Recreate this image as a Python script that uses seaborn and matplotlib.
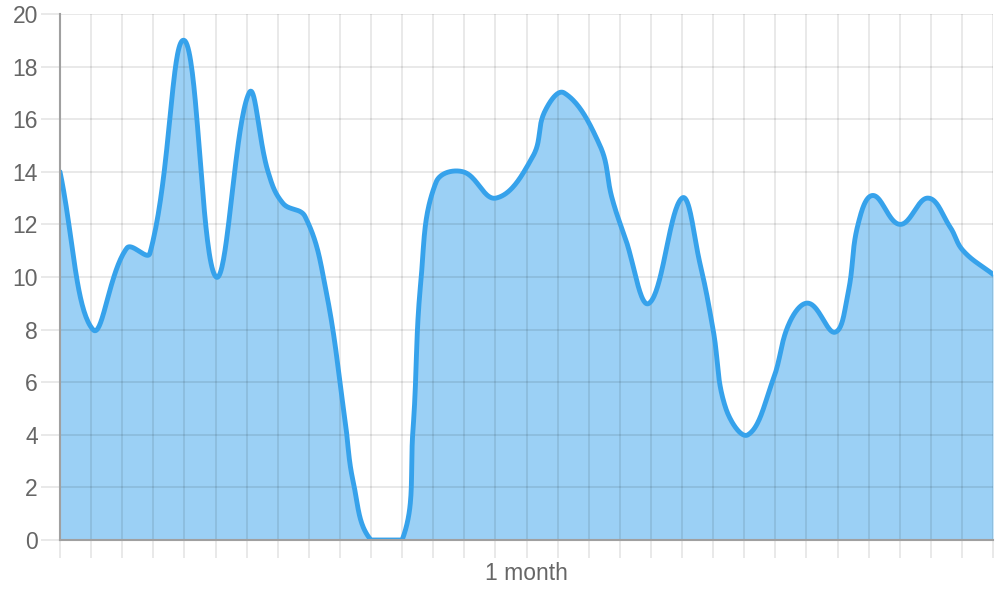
import numpy as np
import pandas as pd
import matplotlib
matplotlib.use("Agg")
import matplotlib.pyplot as plt
import seaborn as sns

# Data (x in days of the month, y value)
days = [0.0, 1.06, 2.15, 2.89, 3.99, 5.02, 6.08, 6.69, 7.17, 7.88, 8.55,
        9.16, 9.43, 10.0, 11.0, 11.35, 11.6, 12.09, 12.96, 14.02, 15.21,
        15.59, 16.21, 17.36, 17.75, 18.17, 18.94, 20.0, 20.58, 21.0, 21.41,
        22.12, 22.93, 23.47, 24.08, 24.92, 25.34, 25.66, 26.14, 27.01, 27.91,
        28.62, 29.04, 30.0]
values = [14.0, 8.0, 11.1, 10.9, 19.0, 10.0, 17.0, 14.0, 12.8, 12.3, 9.5,
          4.6, 2.2, 0.0, 0.0, 4.2, 9.8, 13.6, 14.0, 13.0, 14.6,
          16.3, 17.0, 15.0, 13.0, 11.5, 9.0, 13.0, 10.5, 8.0, 5.0,
          4.0, 6.1, 8.3, 9.0, 7.9, 9.4, 12.0, 13.1, 12.0, 13.0,
          11.9, 11.0, 10.1]
x_ticks = list(range(0, 31))
y_ticks = list(range(0, 21, 2))
x_label = "1 month"

BLUE = "#36A2EB"
FILL = "#9BD0F5"


# smooth line like a tension 0.4 bezier spline (computed in pixel space)
def smooth(xs, ys, t=0.4, sx=31.1, sy=26.3, n=40):
    px = np.array(xs) * sx
    py = np.array(ys) * sy
    m = len(px)
    cpp, cpn = [], []
    for i in range(m):
        pp = (px[max(i - 1, 0)], py[max(i - 1, 0)])
        cu = (px[i], py[i])
        nx = (px[min(i + 1, m - 1)], py[min(i + 1, m - 1)])
        d01 = np.hypot(cu[0] - pp[0], cu[1] - pp[1])
        d12 = np.hypot(nx[0] - cu[0], nx[1] - cu[1])
        tot = d01 + d12
        s01 = d01 / tot if tot else 0
        s12 = d12 / tot if tot else 0
        fa, fb = t * s01, t * s12
        cpp.append((cu[0] - fa * (nx[0] - pp[0]), cu[1] - fa * (nx[1] - pp[1])))
        cpn.append((cu[0] + fb * (nx[0] - pp[0]), cu[1] + fb * (nx[1] - pp[1])))
    lo, hi = 0, 20 * sy
    cpp = [(a, min(max(b, lo), hi)) for a, b in cpp]
    cpn = [(a, min(max(b, lo), hi)) for a, b in cpn]
    out_x, out_y = [], []
    tt = np.linspace(0, 1, n)
    for i in range(m - 1):
        p0 = np.array([px[i], py[i]])
        p1 = np.array(cpn[i])
        p2 = np.array(cpp[i + 1])
        p3 = np.array([px[i + 1], py[i + 1]])
        for u in tt[:-1] if i < m - 2 else tt:
            b = ((1 - u) ** 3) * p0 + 3 * ((1 - u) ** 2) * u * p1 + 3 * (1 - u) * u ** 2 * p2 + u ** 3 * p3
            out_x.append(b[0] / sx)
            out_y.append(b[1] / sy)
    return np.array(out_x), np.clip(np.array(out_y), 0, 20)


sx_, sy_ = smooth(days, values)
curve = pd.DataFrame({"day": sx_, "value": sy_})

sns.set_theme(style="white")
plt.rcParams["font.family"] = ["Liberation Sans", "DejaVu Sans"]

fig = plt.figure(figsize=(10, 6), dpi=100)
ax = fig.add_axes([0.06, 0.1, 0.933, 0.8767])

ax.fill_between(curve["day"], curve["value"], 0, color=FILL, lw=0, zorder=1)
sns.lineplot(data=curve, x="day", y="value", sort=False, color=BLUE, lw=3.5,
             ax=ax, zorder=3, estimator=None)

ax.set_xlim(0, 30)
ax.set_ylim(0, 20)
ax.set_xticks(x_ticks)
ax.set_xticklabels([x_label if d == 15 else "" for d in x_ticks])
ax.set_yticks(y_ticks)
ax.set_yticklabels([str(v) for v in y_ticks])
ax.grid(True, color="#000000", alpha=0.1, lw=1.2, zorder=2)
ax.set_axisbelow(False)
for s in ["top", "right"]:
    ax.spines[s].set_visible(False)
for s in ["left", "bottom"]:
    ax.spines[s].set_color("#a0a0a0")
    ax.spines[s].set_linewidth(1.5)
    ax.spines[s].set_zorder(4)
ax.tick_params(axis="x", bottom=True, length=13, width=1.2, color="#e5e5e5", pad=3,
               labelsize=16.5, labelcolor="#666666")
ax.tick_params(axis="y", left=True, length=14, width=1.2, color="#e5e5e5", pad=2,
               labelsize=16.5, labelcolor="#666666")
ax.set_xlabel("")
ax.set_ylabel("")

fig.savefig("out.png", dpi=100)
